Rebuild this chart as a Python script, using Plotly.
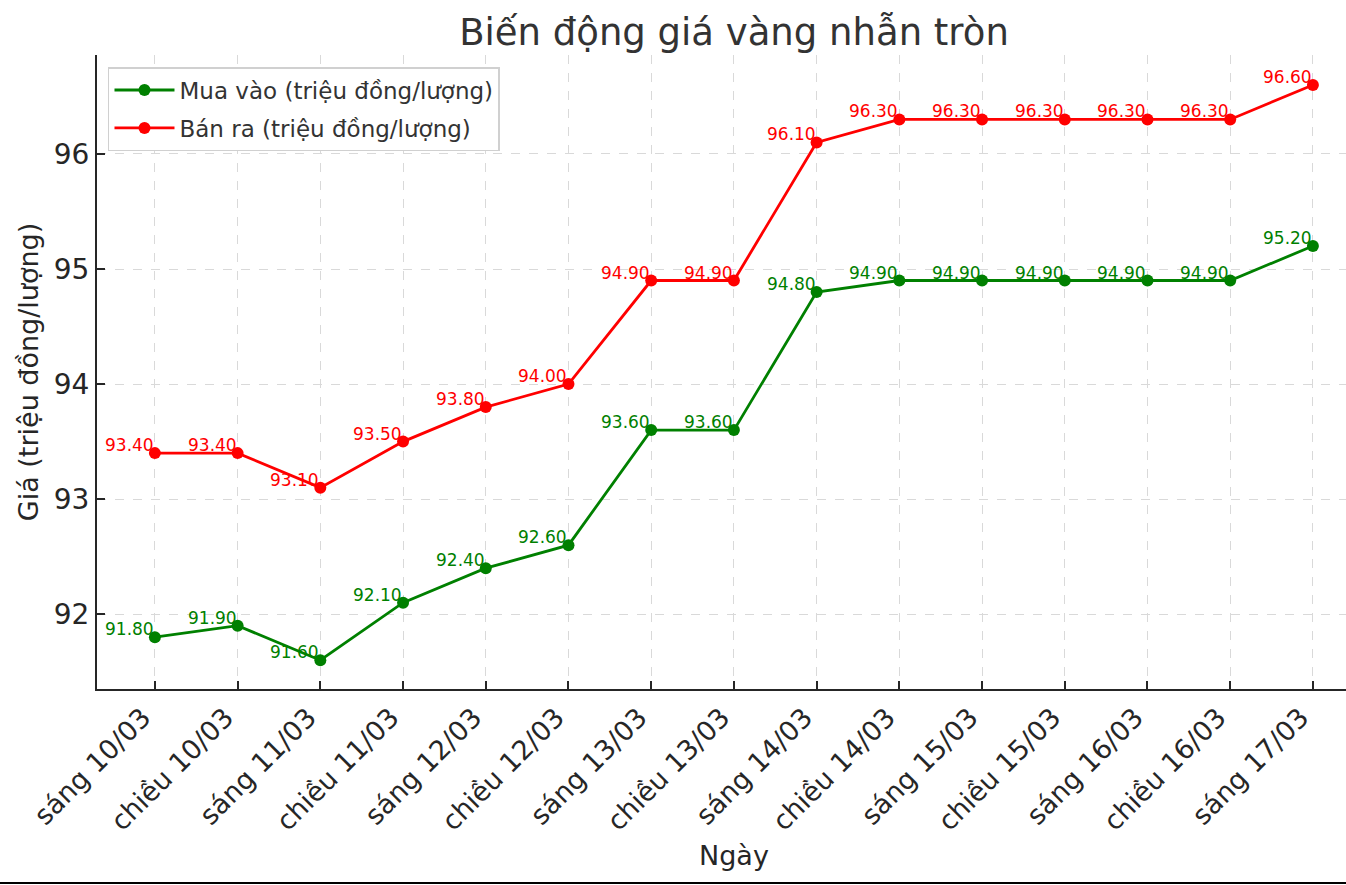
import plotly.graph_objects as go

labels = ["sáng 10/03", "chiều 10/03", "sáng 11/03", "chiều 11/03", "sáng 12/03",
          "chiều 12/03", "sáng 13/03", "chiều 13/03", "sáng 14/03", "chiều 14/03",
          "sáng 15/03", "chiều 15/03", "sáng 16/03", "chiều 16/03", "sáng 17/03"]
buy = [91.8, 91.9, 91.6, 92.1, 92.4, 92.6, 93.6, 93.6, 94.8, 94.9, 94.9, 94.9, 94.9, 94.9, 95.2]
sell = [93.4, 93.4, 93.1, 93.5, 93.8, 94.0, 94.9, 94.9, 96.1, 96.3, 96.3, 96.3, 96.3, 96.3, 96.6]
yticks = [92, 93, 94, 95, 96]

FONT = "DejaVu Sans"
xs = list(range(len(labels)))

fig = go.Figure()
fig.add_trace(go.Scatter(x=xs, y=buy, mode="lines+markers", name="Mua vào (triệu đồng/lượng)",
                         legendgroup="a",
                         line=dict(color="#008000", width=2.8), marker=dict(size=12, color="#008000")))
fig.add_trace(go.Scatter(x=xs, y=sell, mode="lines+markers", name="Bán ra (triệu đồng/lượng)",
                         legendgroup="b",
                         line=dict(color="#ff0000", width=2.8), marker=dict(size=12, color="#ff0000")))

anns = []
for series, col in ((buy, "#008000"), (sell, "#ff0000")):
    for i, v in enumerate(series):
        anns.append(dict(x=i, y=v, text=f"{v:.2f}", showarrow=False, xanchor="right", yanchor="bottom",
                         xshift=1, yshift=-4, font=dict(family=FONT, size=17, color=col)))
anns.append(dict(x=(734 - 97) / 1249, y=(689 - 855) / 634, xref="paper", yref="paper", text="Ngày",
                 showarrow=False, xanchor="center", yanchor="middle",
                 font=dict(family=FONT, size=27, color="#262626")))

fig.update_layout(
    width=1346, height=885,
    margin=dict(l=97, r=0, t=55, b=196),
    paper_bgcolor="white", plot_bgcolor="white",
    font=dict(family=FONT, color="#262626"),
    title=dict(text="Biến động giá vàng nhẫn tròn", x=(734 - 97) / 1249, xref="paper", xanchor="center",
               y=1 - 32 / 885, yanchor="middle",
               font=dict(family=FONT, size=37, color="#333333")),
    annotations=anns,
    showlegend=True,
    legend=dict(x=0.0088, y=0.981, xanchor="left", yanchor="top", bgcolor="white",
                bordercolor="#d0d0d0", borderwidth=1.5, font=dict(family=FONT, size=23, color="#333333"),
                itemwidth=60, tracegroupgap=5),
    shapes=[dict(type="line", xref="paper", yref="paper", x0=-0.1, x1=1.1,
                 y0=-(196 - 2) / 634, y1=-(196 - 2) / 634, line=dict(color="black", width=2))],
)
fig.update_xaxes(range=[-0.7, 14.4], tickvals=xs, ticktext=labels, tickangle=-45,
                 tickfont=dict(family=FONT, size=27, color="#262626"),
                 ticklabelstandoff=0, ticklabelshift=-12,
                 showline=True, linecolor="#262626", linewidth=2, mirror=False,
                 ticks="inside", ticklen=8, tickwidth=1.5, tickcolor="#262626",
                 showgrid=True, gridcolor="#d9d9d9", griddash="dash", gridwidth=1, zeroline=False)
fig.update_yaxes(range=[91.35, 96.86], tickvals=yticks, ticktext=[str(t) for t in yticks],
                 tickfont=dict(family=FONT, size=28, color="#262626"),
                 showline=True, linecolor="#262626", linewidth=2, mirror=False,
                 ticks="inside", ticklen=8, tickwidth=1.5, tickcolor="#262626",
                 showgrid=True, gridcolor="#d9d9d9", griddash="dash", gridwidth=1, zeroline=False,
                 title=dict(text="Giá (triệu đồng/lượng)", font=dict(family=FONT, size=27, color="#262626"), standoff=7))

fig.write_html("out.html", config={"displayModeBar": False},
               post_script="document.body.style.margin='0px';document.body.style.overflow='hidden';")
